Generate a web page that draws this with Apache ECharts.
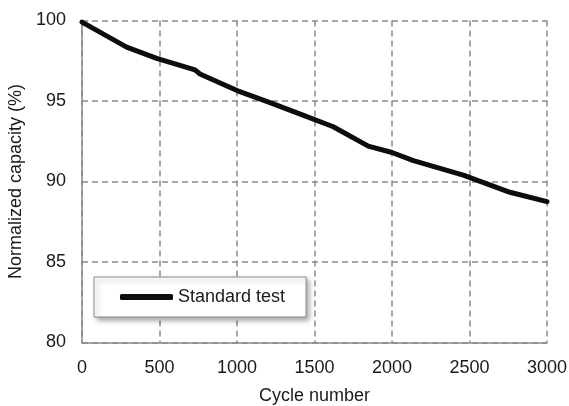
<!DOCTYPE html>
<html>
<head>
<meta charset="utf-8">
<script src="https://cdn.jsdelivr.net/npm/echarts@6/dist/echarts.min.js"></script>
<style>
  html, body { margin: 0; padding: 0; background: #fff; }
  #chart { width: 569px; height: 406px; }
</style>
</head>
<body>
<div id="chart"></div>
<script>
// Capacity retention of the cell over the standard cycling test
const cycles = [0, 288, 482, 729, 761, 1000, 1200, 1417, 1621, 1847, 2000, 2138, 2460, 2761, 3000];
const capacity = [99.9, 98.35, 97.65, 96.93, 96.68, 95.65, 94.95, 94.15, 93.4, 92.2, 91.8, 91.3, 90.4, 89.33, 88.75];
const seriesName = 'Standard test';
const xTicks = [0, 500, 1000, 1500, 2000, 2500, 3000];
const yTicks = [80, 85, 90, 95, 100];

const FONT = 'Liberation Sans, Arial, sans-serif';
const TEXT = '#1a1a1a';
const GRID = '#8a8a8a';
const plain = v => String(v);

const chart = echarts.init(document.getElementById('chart'), null, { renderer: 'canvas' });

chart.setOption({
  animation: false,
  backgroundColor: '#ffffff',
  // fixed plot rectangle; labels may sit close to the canvas edge
  grid: { left: 82, right: 22, top: 20.5, bottom: 63.5, containLabel: false, outerBoundsMode: 'none' },
  legend: {
    data: [seriesName],
    left: 94,
    top: 277,
    orient: 'horizontal',
    icon: 'roundRect',
    itemWidth: 53,
    itemHeight: 6,
    padding: [11, 21, 11, 26],
    backgroundColor: '#ffffff',
    borderColor: '#8a8a8a',
    borderWidth: 1,
    shadowColor: 'rgba(0,0,0,0.35)',
    shadowBlur: 5,
    shadowOffsetX: 3,
    shadowOffsetY: 3,
    textStyle: { fontFamily: FONT, fontSize: 18, color: TEXT }
  },
  xAxis: {
    type: 'value',
    min: xTicks[0],
    max: xTicks[xTicks.length - 1],
    interval: xTicks[1] - xTicks[0],
    name: 'Cycle number',
    nameLocation: 'middle',
    nameGap: 45,
    nameTextStyle: { fontFamily: FONT, fontSize: 18, color: TEXT },
    axisLine: { show: true, lineStyle: { color: GRID, width: 1.5 } },
    axisTick: { show: false },
    axisLabel: { fontFamily: FONT, fontSize: 18, color: TEXT, margin: 17, formatter: plain },
    splitLine: { show: true, lineStyle: { color: GRID, width: 1.5, type: [6, 4] } }
  },
  yAxis: {
    type: 'value',
    min: yTicks[0],
    max: yTicks[yTicks.length - 1],
    interval: yTicks[1] - yTicks[0],
    name: 'Normalized capacity (%)',
    nameLocation: 'middle',
    nameGap: 50,
    nameTextStyle: { fontFamily: FONT, fontSize: 18, color: TEXT },
    axisLine: { show: true, lineStyle: { color: GRID, width: 1.5 } },
    axisTick: { show: false },
    axisLabel: { fontFamily: FONT, fontSize: 18, color: TEXT, margin: 16, formatter: plain },
    splitLine: { show: true, lineStyle: { color: GRID, width: 1.5, type: [6, 4] } }
  },
  series: [{
    name: seriesName,
    type: 'line',
    data: cycles.map((c, i) => [c, capacity[i]]),
    showSymbol: false,
    symbol: 'none',
    smooth: false,
    lineStyle: { color: '#0d0d0d', width: 5, cap: 'round', join: 'round' },
    itemStyle: { color: '#0d0d0d' }
  }]
});
</script>
</body>
</html>
